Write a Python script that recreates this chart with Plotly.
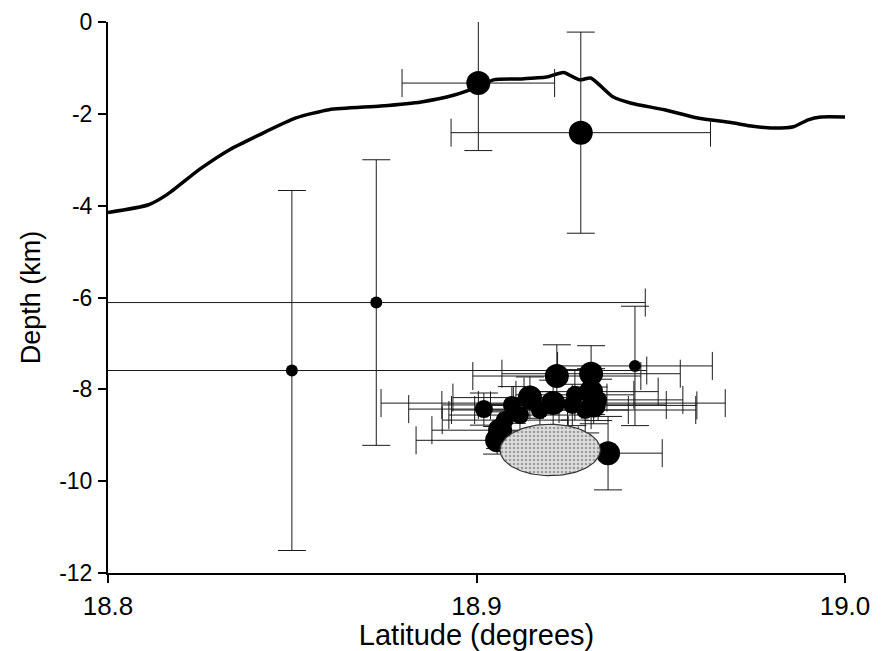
import numpy as np
import plotly.graph_objects as go

# ---------------- data ----------------
# Topographic profile (seafloor) along latitude
topo_lat = [18.800, 18.811, 18.816, 18.825, 18.833, 18.841, 18.851, 18.860, 18.874,
            18.885, 18.894, 18.9005, 18.9046, 18.912, 18.919, 18.9236, 18.928, 18.931,
            18.937, 18.942, 18.951, 18.960, 18.969, 18.975, 18.980, 18.986, 18.990,
            18.9935, 19.000]
topo_depth = [-4.15, -3.98, -3.76, -3.20, -2.78, -2.46, -2.09, -1.91, -1.83,
              -1.74, -1.59, -1.41, -1.26, -1.24, -1.20, -1.10, -1.26, -1.22,
              -1.63, -1.77, -1.91, -2.09, -2.19, -2.27, -2.31, -2.28, -2.13,
              -2.07, -2.07]

# Earthquake hypocentres: latitude, depth, lat error, depth error (+/-)
eq_lat = [18.9005, 18.9283, 18.8499, 18.8728, 18.9430,
          18.9218, 18.9311, 18.9311, 18.9145, 18.9096, 18.9208, 18.9260,
          18.9295, 18.9020, 18.9064, 18.9056, 18.9357, 18.9118,
          18.9172, 18.9267, 18.9330, 18.9077, 18.9318]
eq_depth = [-1.33, -2.41, -7.59, -6.11, -7.49,
            -7.71, -7.66, -8.05, -8.18, -8.34, -8.30, -8.34,
            -8.45, -8.43, -8.89, -9.11, -9.39, -8.56,
            -8.45, -8.12, -8.23, -8.67, -8.35]
eq_lat_err = [0.0207, 0.0352, 0.0963, 0.0730, 0.0210,
              0.0228, 0.0242, 0.0182, 0.0209, 0.0190, 0.0467, 0.0255,
              0.0300, 0.0204, 0.0185, 0.0220, 0.0147, 0.0193,
              0.0240, 0.0160, 0.0230, 0.0170, 0.0280]
eq_depth_err = [1.47, 2.19, 3.92, 3.11, 1.30,
                0.68, 0.61, 0.50, 0.45, 0.40, 0.50, 0.45,
                0.50, 0.35, 0.40, 0.30, 0.80, 0.35,
                0.40, 0.55, 0.45, 0.35, 0.40]
# relative event size class (L = large, M = medium, S = small)
eq_class = ["L", "L", "S", "S", "S",
            "L", "L", "L", "L", "M", "L", "M",
            "M", "M", "L", "L", "L", "M",
            "M", "M", "M", "M", "L"]

# Shaded ellipse (inferred body): centre and semi-axes
ell_center = (18.9200, -9.32)
ell_radius = (0.0136, 0.56)

x_ticks = [18.8, 18.9, 19.0]
x_ticktext = ["18.8", "18.9", "19.0"]
y_ticks = [0, -2, -4, -6, -8, -10, -12]
y_ticktext = ["0", "-2", "-4", "-6", "-8", "-10", "-12"]

# ---------------- styles ----------------
SIZE = {"L": 24, "M": 18, "S": 12}
FONT = "Liberation Sans, Arial, Helvetica, sans-serif"

fig = go.Figure()

fig.add_trace(go.Scatter(
    x=topo_lat, y=topo_depth, mode="lines",
    line=dict(color="black", width=3.5, shape="spline", smoothing=0.6),
    hoverinfo="skip", showlegend=False))

fig.add_trace(go.Scatter(
    x=eq_lat, y=eq_depth, mode="markers",
    marker=dict(color="black", opacity=1, size=[SIZE[c] for c in eq_class],
                line=dict(width=0)),
    error_x=dict(type="data", array=eq_lat_err, color="#1a1a1a", thickness=1, width=14),
    error_y=dict(type="data", array=eq_depth_err, color="#1a1a1a", thickness=1, width=14),
    showlegend=False))

t = np.linspace(0, 2 * np.pi, 120)
fig.add_trace(go.Scatter(
    x=ell_center[0] + ell_radius[0] * np.cos(t),
    y=ell_center[1] + ell_radius[1] * np.sin(t),
    mode="lines", fill="toself",
    line=dict(color="#333333", width=1.2),
    fillcolor="#c8c8c8",
    fillpattern=dict(shape=".", fgcolor="#5a5a5a", bgcolor="#dedede", size=4, solidity=0.35),
    hoverinfo="skip", showlegend=False))

# the page body adds an 8px offset, so the figure is sized to fit the 885x651 window
fig.update_layout(
    width=877, height=643,
    margin=dict(l=100, r=40, t=14, b=78, autoexpand=False),
    paper_bgcolor="white", plot_bgcolor="white",
    font=dict(family=FONT, color="black", size=22),
)
fig.update_xaxes(
    range=[18.8, 19.0], tickvals=x_ticks, ticktext=x_ticktext,
    showline=True, linecolor="black", linewidth=2, ticks="outside", ticklen=8,
    tickwidth=1.5, tickcolor="black", showgrid=False, zeroline=False,
    automargin=False, tickfont=dict(size=26), ticklabelstandoff=1,
    title=dict(text="Latitude (degrees)", font=dict(size=29), standoff=6))
fig.update_yaxes(
    range=[-12, 0], tickvals=y_ticks, ticktext=y_ticktext,
    showline=True, linecolor="black", linewidth=2, ticks="outside", ticklen=8,
    tickwidth=1.5, tickcolor="black", showgrid=False, zeroline=False,
    automargin=False, tickfont=dict(size=23), ticklabelstandoff=1,
    title=dict(text="Depth (km)", font=dict(size=27), standoff=11))

fig.write_html("out.html")
